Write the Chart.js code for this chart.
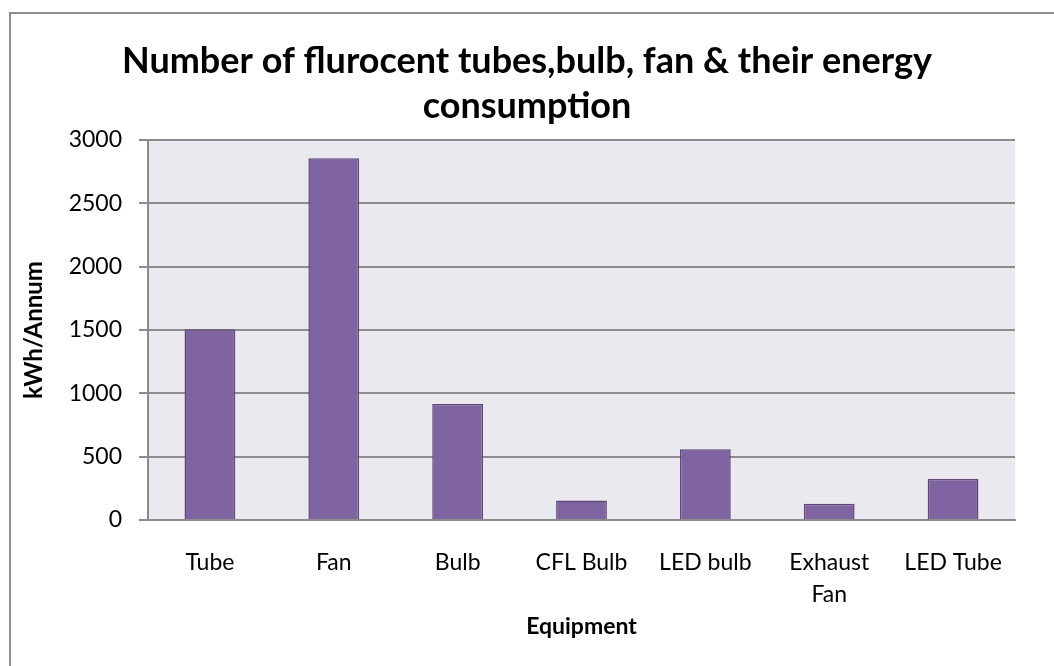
<!DOCTYPE html>
<html>
<head>
<meta charset="utf-8">
<script src="https://cdn.jsdelivr.net/npm/chart.js@4/dist/chart.umd.min.js"></script>
<style>
  body { margin: 0; overflow: hidden; background: #fff; }
  #frame { position: absolute; left: 9px; top: 12px; width: 1100px; height: 700px; border: 2px solid #8e8e8e; }
  #energy { position: absolute; left: 0; top: 0; }
</style>
</head>
<body>
<div id="frame"></div>
<canvas id="energy" width="1054" height="666"></canvas>
<script>
const equipment = ['Tube', 'Fan', 'Bulb', 'CFL Bulb', 'LED bulb', ['Exhaust', 'Fan'], 'LED Tube']
const kwhPerAnnum = [1505, 2855, 916, 153, 558, 129, 324]
const yTicks = [0, 500, 1000, 1500, 2000, 2500, 3000]

const fontName = 'Lato, "Open Sans", sans-serif'

const plotBackground = {
  id: 'plotBackground',
  beforeDraw(chart) {
    const { ctx, chartArea } = chart
    ctx.save()
    ctx.fillStyle = '#ebe9f0'
    ctx.fillRect(chartArea.left, chartArea.top, chartArea.right - chartArea.left, chartArea.bottom - chartArea.top)
    ctx.restore()
  }
}

const energyChart = document.getElementById('energy')

new Chart(
  energyChart,
  {
    type: 'bar',
    data: {
      labels: equipment,
      datasets: [
        {
          label: 'kWh/Annum',
          data: kwhPerAnnum,
          backgroundColor: '#8064a2',
          borderColor: '#5c4777',
          borderWidth: 1.5,
          barPercentage: 0.41,
          categoryPercentage: 1
        }
      ]
    },
    options: {
      responsive: false,
      animation: false,
      layout: { padding: 0 },
      plugins: {
        legend: { display: false },
        tooltip: { enabled: false },
        title: {
          display: true,
          text: ['Number of flurocent tubes,bulb, fan & their energy', 'consumption'],
          color: '#000',
          font: { family: fontName, size: 36, weight: 'bold', lineHeight: '45px' },
          padding: { top: 39, bottom: 11 }
        }
      },
      scales: {
        x: {
          grid: { display: false, drawTicks: false },
          border: { display: true, color: '#8c8c8c', width: 2 },
          ticks: {
            color: '#000',
            font: { family: fontName, size: 23, lineHeight: '32px' },
            padding: 27,
            autoSkip: false,
            maxRotation: 0
          },
          title: {
            display: true,
            text: 'Equipment',
            color: '#000',
            font: { family: fontName, size: 23, weight: 'bold', lineHeight: 1.2 },
            padding: { top: 0, bottom: 26 }
          },
          afterFit: (scale) => { scale.height = 146 }
        },
        y: {
          min: 0,
          max: 3000,
          afterBuildTicks: (scale) => { scale.ticks = yTicks.map(v => ({ value: v })) },
          grid: { color: '#8c8c8c', lineWidth: 2, tickLength: 9 },
          border: { display: true, color: '#8c8c8c', width: 2 },
          ticks: {
            color: '#000',
            font: { family: fontName, size: 23, lineHeight: 1 },
            padding: 17,
            callback: (value) => String(value)
          },
          title: {
            display: true,
            text: 'kWh/Annum',
            color: '#000',
            font: { family: fontName, size: 24, weight: 'bold', lineHeight: 1.2 },
            padding: { top: 20, bottom: 0 }
          },
          afterFit: (scale) => { scale.width = 148 }
        },
        spacer: {
          position: 'right',
          grid: { display: false },
          border: { display: false },
          ticks: { display: false },
          afterFit: (scale) => { scale.width = 39 }
        }
      }
    },
    plugins: [plotBackground]
  }
)
</script>
</body>
</html>
